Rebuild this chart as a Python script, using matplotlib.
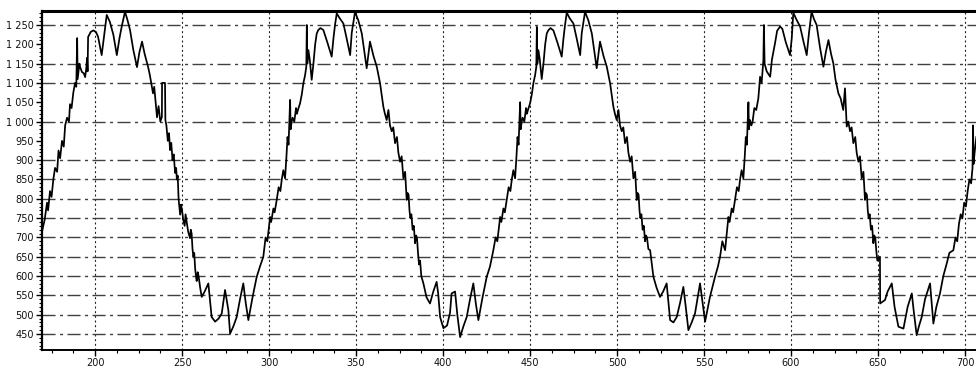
import matplotlib
matplotlib.use('Agg')
import matplotlib.pyplot as plt
from matplotlib.ticker import MultipleLocator, FixedLocator

plt.rcParams.update({
    'font.family': ['DejaVu Sans'],
    'font.size': 7,
})

# trace points (t, value), one list per stretch between troughs
seg0 = [(169.5, 715), (171.0, 745), (172.4, 790), (173.0, 770), (174.1, 820), (175.0, 805),
        (176.0, 850), (177.0, 880), (178.2, 870), (179.0, 925), (179.9, 905), (181.0, 950),
        (182.0, 935), (182.8, 990), (183.9, 1010), (185.0, 1000), (185.6, 1045), (186.5, 1035),
        (187.5, 1075), (188.5, 1100), (189.2, 1090), (189.7, 1216), (190.0, 1110), (191.0, 1150),
        (191.4, 1141), (192.5, 1128), (193.5, 1125), (194.3, 1115), (195.0, 1140), (195.4, 1165),
        (195.7, 1130), (196.0, 1219), (197.5, 1232), (199.0, 1236), (200.5, 1232), (201.7, 1220),
        (202.8, 1195), (203.8, 1172), (205.0, 1215), (206.7, 1276), (208.5, 1258), (210.5, 1225),
        (212.5, 1172), (214.0, 1215), (215.5, 1250), (217.2, 1284), (218.5, 1265), (220.1, 1237),
        (222.0, 1185), (224.1, 1141), (225.5, 1180), (227.0, 1207), (228.5, 1175), (230.5, 1141),
        (231.5, 1120), (233.3, 1073), (234.0, 1090), (235.0, 1040), (235.6, 1011), (236.5, 1040),
        (237.5, 1000), (238.4, 1012), (238.5, 1100), (240.2, 1100), (240.4, 1004), (241.0, 990),
        (241.8, 950), (242.5, 970), (243.1, 926), (243.8, 945), (244.5, 900), (245.2, 915),
        (246.0, 867), (246.6, 880), (247.0, 850), (247.5, 860), (248.0, 800), (248.9, 759),
        (249.4, 785), (250.0, 770), (250.7, 745), (251.5, 730), (252.0, 760), (252.5, 745),
        (253.5, 715), (254.6, 698), (255.0, 720), (255.5, 710), (256.0, 670), (256.5, 650),
        (257.0, 660), (257.5, 620), (258.0, 600), (258.4, 587), (259.0, 610), (259.5, 600),
        (260.4, 570), (261.3, 546), (263.0, 560), (265.1, 581), (267.0, 494), (269.0, 482),
        (271.0, 490), (272.8, 503), (274.7, 564), (276.6, 512)]

seg1 = [(277.6, 451), (279.5, 470), (281.4, 494), (283.3, 540), (285.2, 581), (286.6, 530),
        (288.1, 486), (290.5, 545), (292.9, 598), (294.8, 625), (296.7, 650), (298.0, 700),
        (299.0, 690), (300.6, 753), (301.2, 740), (302.5, 775), (303.2, 765), (304.4, 797),
        (305.5, 830), (306.5, 820), (307.3, 850), (308.2, 874), (309.2, 853), (310.0, 910),
        (310.6, 960), (311.2, 940), (312.1, 1056), (312.4, 980), (313.0, 1000), (313.5, 1010),
        (314.5, 1000), (315.5, 1035), (316.0, 1020), (316.6, 1030), (317.8, 1047), (318.8, 1070),
        (319.7, 1099), (320.7, 1120), (321.4, 1142), (321.7, 1250), (322.0, 1150), (322.6, 1185),
        (323.4, 1160), (324.5, 1108), (325.5, 1150), (326.5, 1200), (327.4, 1228), (328.3, 1237),
        (329.5, 1242), (331.2, 1237), (333.5, 1205), (336.0, 1168), (337.0, 1215), (337.9, 1250),
        (338.9, 1280), (340.5, 1268), (342.7, 1254), (344.6, 1215), (346.6, 1172), (347.5, 1229),
        (349.4, 1284), (351.3, 1262), (353.3, 1228), (354.8, 1180), (356.1, 1138), (358.0, 1207),
        (360.0, 1170), (361.9, 1142), (363.8, 1099), (365.7, 1038), (366.6, 1020), (367.6, 1004),
        (368.6, 1030), (369.5, 990), (370.5, 975), (371.4, 985), (372.4, 944), (373.5, 960),
        (374.3, 920), (375.3, 896), (376.2, 910), (377.2, 853), (378.2, 870), (379.1, 797),
        (379.6, 815), (380.2, 810), (380.7, 770), (381.2, 750), (381.8, 760), (382.5, 720),
        (383.2, 730), (383.9, 685), (384.5, 705), (385.0, 700), (385.6, 660), (386.2, 630),
        (386.8, 640), (387.5, 600), (388.7, 581), (390.5, 545), (392.5, 529), (394.4, 560),
        (396.3, 585), (397.2, 555), (398.3, 494), (400.2, 465), (402.3, 472), (404.0, 505),
        (404.9, 555), (406.9, 560), (408.2, 500)]

seg2 = [(409.8, 442), (411.7, 470), (413.6, 494), (415.5, 540), (417.4, 581), (418.8, 530),
        (420.3, 486), (422.7, 545), (425.1, 598), (427.0, 625), (428.9, 667), (430.2, 700),
        (431.2, 690), (432.8, 753), (433.5, 740), (434.7, 775), (435.5, 765), (436.6, 797),
        (437.7, 830), (438.7, 820), (439.5, 850), (440.4, 874), (441.4, 853), (442.2, 910),
        (442.8, 960), (443.4, 940), (444.3, 1050), (444.6, 980), (445.2, 1000), (445.7, 1010),
        (446.7, 1000), (447.7, 1035), (448.2, 1020), (448.8, 1030), (450.0, 1047), (451.0, 1070),
        (451.9, 1099), (452.9, 1120), (453.6, 1142), (453.9, 1245), (454.2, 1150), (454.8, 1185),
        (455.6, 1160), (456.7, 1110), (457.7, 1150), (458.7, 1200), (459.6, 1228), (460.5, 1236),
        (461.7, 1242), (463.4, 1236), (465.7, 1205), (468.2, 1168), (469.2, 1215), (470.1, 1250),
        (471.1, 1282), (472.7, 1268), (474.9, 1254), (476.8, 1215), (478.8, 1172), (479.7, 1229),
        (481.6, 1284), (483.5, 1262), (485.5, 1228), (487.0, 1180), (488.3, 1138), (490.2, 1207),
        (492.2, 1170), (494.1, 1142), (496.0, 1099), (497.9, 1038), (498.8, 1020), (499.8, 1004),
        (500.8, 1030), (501.7, 990), (502.7, 975), (503.6, 985), (504.6, 944), (505.7, 960),
        (506.5, 920), (507.5, 896), (508.4, 910), (509.4, 853), (510.4, 870), (511.3, 797),
        (511.8, 815), (512.4, 810), (512.9, 770), (513.4, 750), (514.0, 760), (514.7, 720),
        (515.4, 730), (516.1, 690), (516.6, 705), (517.2, 700), (518.0, 670), (519.0, 667),
        (520.0, 630), (520.9, 598), (522.7, 570), (524.7, 546), (526.5, 560), (528.5, 581),
        (530.5, 486), (532.4, 480), (534.3, 494), (536.2, 530), (538.1, 572), (539.5, 520)]

seg3 = [(541.0, 460), (542.9, 480), (544.8, 503), (546.2, 540), (547.7, 581), (549.2, 530),
        (550.6, 482), (553.4, 546), (556.3, 598), (558.0, 625), (559.2, 650), (560.5, 690),
        (562.1, 667), (564.0, 753), (564.7, 740), (565.9, 775), (566.7, 765), (567.8, 797),
        (568.9, 830), (569.9, 820), (570.7, 850), (571.6, 874), (572.6, 853), (573.4, 910),
        (574.0, 960), (574.6, 940), (575.5, 1050), (575.8, 980), (576.4, 1004), (577.2, 990),
        (577.9, 1000), (578.9, 1035), (580.0, 1030), (581.2, 1060), (582.2, 1116), (583.1, 1100),
        (584.1, 1159), (584.4, 1250), (584.8, 1150), (586.0, 1130), (588.0, 1116), (589.0, 1160),
        (590.8, 1203), (592.0, 1235), (593.7, 1246), (595.0, 1240), (597.0, 1205), (599.4, 1172),
        (600.4, 1215), (601.3, 1282), (603.0, 1265), (605.2, 1246), (607.0, 1210), (609.0, 1172),
        (610.3, 1229), (611.8, 1284), (613.2, 1265), (614.7, 1250), (616.7, 1190), (618.6, 1142),
        (620.0, 1180), (621.5, 1211), (623.0, 1175), (624.3, 1151), (625.5, 1110), (627.2, 1073),
        (628.5, 1060), (630.0, 1030), (631.0, 1086), (632.0, 987), (632.9, 1000), (633.9, 975),
        (634.8, 985), (635.8, 944), (636.9, 960), (637.7, 920), (638.7, 896), (639.6, 910),
        (640.6, 853), (641.6, 870), (642.5, 797), (643.0, 815), (643.6, 810), (644.1, 770),
        (644.6, 750), (645.2, 760), (645.9, 720), (646.6, 730), (647.3, 685), (647.8, 705),
        (648.4, 700), (649.0, 665), (649.6, 640), (651.1, 650), (651.2, 529), (654.0, 538),
        (655.5, 560), (657.9, 581), (659.5, 520), (661.7, 469), (664.6, 464), (667.0, 520),
        (669.4, 555), (670.5, 510)]

seg4 = [(672.2, 447), (673.5, 470), (675.1, 494), (677.0, 540), (679.9, 581), (681.8, 477),
        (683.5, 520), (685.6, 555), (687.5, 600), (689.5, 633), (691.0, 660), (693.3, 667),
        (694.5, 700), (695.5, 690), (696.5, 735), (697.5, 760), (698.5, 750), (699.5, 790),
        (700.5, 780), (701.5, 820), (702.5, 850), (703.5, 840), (704.3, 880), (704.6, 990),
        (704.9, 890), (705.5, 920), (706.5, 960)]

xtick_vals = [200, 250, 300, 350, 400, 450, 500, 550, 600, 650, 700]
ytick_vals = [450, 500, 550, 600, 650, 700, 750, 800, 850, 900, 950,
              1000, 1050, 1100, 1150, 1200, 1250]
ytick_labels = ['450', '500', '550', '600', '650', '700', '750', '800', '850', '900', '950',
                '1 000', '1 050', '1 100', '1 150', '1 200', '1 250']
# only these levels carry a horizontal grid line
ygrid_vals = [450, 500, 550, 600, 650, 700, 750, 800, 850, 900, 1000, 1100, 1150, 1250]

points = seg0 + seg1 + seg2 + seg3 + seg4
t = [p[0] for p in points]
v = [p[1] for p in points]

fig = plt.figure(figsize=(9.76, 3.71), dpi=100)
ax = fig.add_axes([42 / 976, 21 / 371, 934 / 976, 339 / 371])

ax.set_xlim(169.5, 706.3)
ax.set_ylim(408.6, 1286.2)

# grid: dotted verticals at major x ticks, dash-dot horizontals
for xv in xtick_vals:
    ax.axvline(xv, color='#202020', lw=0.8, dashes=(1.8, 2.4), zorder=1)
for yv in ygrid_vals:
    ax.axhline(yv, color='#404040', lw=1.0, dashes=(9.4, 3.2, 2.2, 3.2), zorder=1)

ax.plot(t, v, color='black', lw=1.25, zorder=3, clip_on=True)

ax.xaxis.set_major_locator(FixedLocator(xtick_vals))
ax.set_xticklabels([str(x) for x in xtick_vals])
ax.xaxis.set_minor_locator(MultipleLocator(12.5))
ax.yaxis.set_major_locator(FixedLocator(ytick_vals))
ax.set_yticklabels(ytick_labels)
ax.yaxis.set_minor_locator(MultipleLocator(10))

ax.tick_params(axis='both', which='major', direction='out', length=4, width=1,
               color='black', labelsize=7, labelcolor='#111111', pad=2)
ax.tick_params(axis='x', which='major', pad=2)
ax.tick_params(axis='both', which='minor', direction='out', length=2.5, width=0.8)

ax.spines['right'].set_visible(False)
ax.spines['top'].set_linewidth(2.2)
ax.spines['left'].set_linewidth(1.6)
ax.spines['bottom'].set_linewidth(1.4)
for s in ax.spines.values():
    s.set_zorder(4)

fig.savefig('out.png', dpi=100)
